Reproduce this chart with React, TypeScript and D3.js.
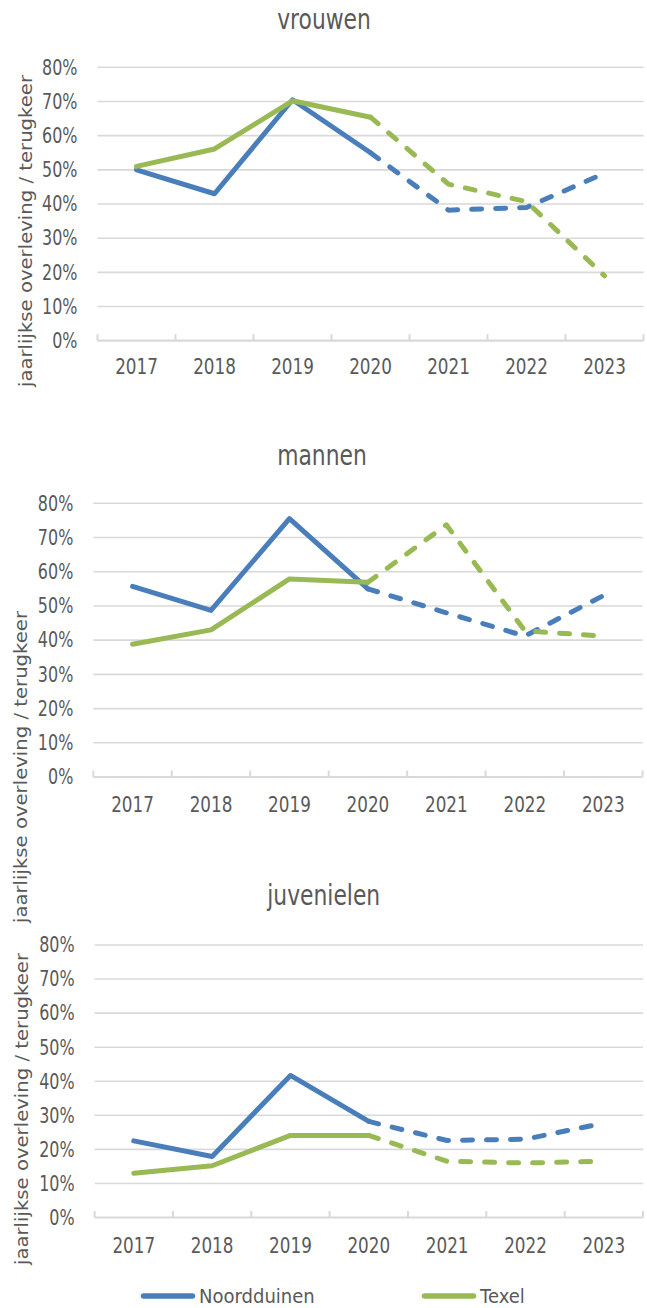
import * as d3 from "d3";

const years = ["2017", "2018", "2019", "2020", "2021", "2022", "2023"];
const yTicks = [0, 0.1, 0.2, 0.3, 0.4, 0.5, 0.6, 0.7, 0.8];
const seriesNames = ["Noordduinen", "Texel"];
const seriesColors = ["#4a7ebb", "#98b954"];
const dashFrom = "2020";

const vrouwenNoord = [0.5, 0.43, 0.705, 0.55, 0.382, 0.39, 0.49];
const vrouwenTexel = [0.51, 0.561, 0.702, 0.654, 0.458, 0.407, 0.19];
const mannenNoord = [0.557, 0.487, 0.755, 0.55, 0.48, 0.412, 0.53];
const mannenTexel = [0.388, 0.43, 0.579, 0.569, 0.737, 0.427, 0.412];
const juvNoord = [0.225, 0.179, 0.417, 0.282, 0.226, 0.23, 0.277];
const juvTexel = [0.13, 0.152, 0.241, 0.241, 0.165, 0.16, 0.165];

const yTitle = "jaarlijkse overleving / terugkeer";
const textColor = "#595959";
const font = "DejaVu Sans";

type Panel = {
  title: string;
  values: number[][];
  x0: number; x1: number; yTop: number; yBottom: number;
  titleX: number; titleY: number;
  xLabelY: number;
  axisTitleX: number; axisTitleY: number;
};

const panels: Panel[] = [
  { title: "vrouwen", values: [vrouwenNoord, vrouwenTexel], x0: 97.5, x1: 643.5, yTop: 67.3, yBottom: 340.7,
    titleX: 324, titleY: 28.5, xLabelY: 374, axisTitleX: 32, axisTitleY: 231 },
  { title: "mannen", values: [mannenNoord, mannenTexel], x0: 93.3, x1: 642.5, yTop: 503.3, yBottom: 777,
    titleX: 322, titleY: 465, xLabelY: 811.5, axisTitleX: 27, axisTitleY: 767 },
  { title: "juvenielen", values: [juvNoord, juvTexel], x0: 94.6, x1: 643, yTop: 945, yBottom: 1217.5,
    titleX: 323.7, titleY: 905, xLabelY: 1253, axisTitleX: 28, axisTitleY: 1109 },
];

function ChartPanel({ p }: { p: Panel }) {
  const x = d3.scaleBand<string>().domain(years).range([p.x0, p.x1]).padding(0);
  const y = d3.scaleLinear().domain([0, 0.8]).range([p.yBottom, p.yTop]);
  const cx = (yr: string) => (x(yr) ?? 0) + x.bandwidth() / 2;
  const line = d3.line<[string, number]>().x((d) => cx(d[0])).y((d) => y(d[1]));
  const split = years.indexOf(dashFrom);
  const fmt = d3.format(".0%");
  const boundaries = years.map((yr) => x(yr) ?? 0).concat([p.x1]);

  return (
    <g>
      <text transform={`translate(${p.titleX},${p.titleY}) scale(0.78,1)`} textAnchor="middle"
        fontSize={28} fill={textColor} fontFamily={font}>{p.title}</text>
      {yTicks.slice(1).map((t) => (
        <line key={t} x1={p.x0} x2={p.x1} y1={y(t)} y2={y(t)} stroke="#d9d9d9" strokeWidth={1.6} />
      ))}
      <line x1={p.x0} x2={p.x1} y1={y(0)} y2={y(0)} stroke="#d9d9d9" strokeWidth={2.2} />
      {boundaries.map((b, i) => (
        <line key={i} x1={b} x2={b} y1={y(0)} y2={y(0) - 6.5} stroke="#d9d9d9" strokeWidth={2} />
      ))}
      {yTicks.map((t) => (
        <text key={t} transform={`translate(${p.x0 - 20},${y(t)}) scale(0.76,1)`} textAnchor="end"
          dominantBaseline="central" fontSize={21} fill={textColor} fontFamily={font}>{fmt(t)}</text>
      ))}
      {years.map((yr) => (
        <text key={yr} transform={`translate(${cx(yr)},${p.xLabelY}) scale(0.8,1)`} textAnchor="middle"
          fontSize={21} fill={textColor} fontFamily={font}>{yr}</text>
      ))}
      <text transform={`translate(${p.axisTitleX},${p.axisTitleY}) rotate(-90)`} textAnchor="middle"
        fontSize={17} fill={textColor} fontFamily={font} textLength={312} lengthAdjust="spacingAndGlyphs">{yTitle}</text>
      {p.values.map((vals, si) => {
        const pts: [string, number][] = years.map((yr, i) => [yr, vals[i]]);
        return (
          <g key={si}>
            <path d={line(pts.slice(0, split + 1)) ?? ""} fill="none" stroke={seriesColors[si]}
              strokeWidth={5} strokeLinejoin="round" strokeLinecap="round" />
            <path d={line(pts.slice(split)) ?? ""} fill="none" stroke={seriesColors[si]}
              strokeWidth={5} strokeLinejoin="round" strokeLinecap="round" strokeDasharray="10 14" />
          </g>
        );
      })}
    </g>
  );
}

export default function App() {
  const legendX = [141, 422];
  return (
    <svg width={647} height={1308} style={{ position: "absolute", left: 0, top: 0, background: "#fff" }}>
      {panels.map((p) => <ChartPanel key={p.title} p={p} />)}
      {seriesNames.map((name, i) => (
        <g key={name}>
          <line x1={legendX[i] + 2.5} x2={legendX[i] + 51.5} y1={1296} y2={1296} stroke={seriesColors[i]}
            strokeWidth={5.5} strokeLinecap="round" />
          <text transform={`translate(${legendX[i] + 58},1296) scale(0.9,1)`} fontSize={20}
            dominantBaseline="central" fill={textColor} fontFamily={font}>{name}</text>
        </g>
      ))}
    </svg>
  );
}
